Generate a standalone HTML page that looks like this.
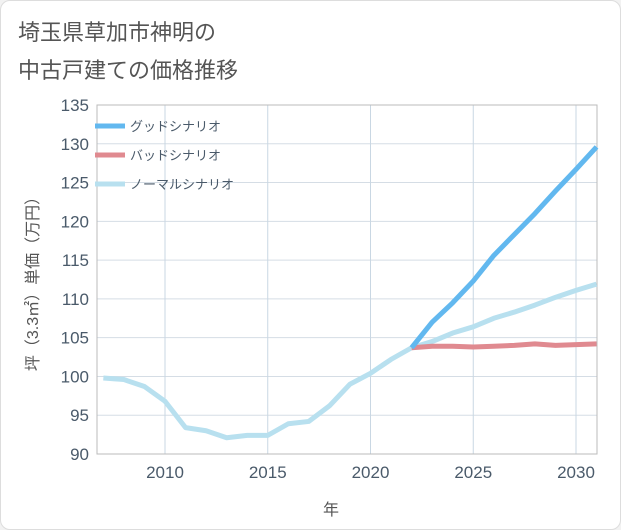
<!DOCTYPE html>
<html><head><meta charset="utf-8"><style>
body{margin:0;background:#f2f2f2;font-family:"Liberation Sans","Noto Sans CJK JP",sans-serif;}
#card{position:absolute;left:0;top:0;width:619px;height:528px;background:#fff;border:1px solid #ddd;border-radius:10px;}
svg{position:absolute;left:0;top:0;}
text{font-family:"Liberation Sans","Noto Sans CJK JP",sans-serif;}
</style></head><body>
<div id="card"></div>
<svg id="chart" width="621" height="530">
<text x="18" y="40" font-size="22" fill="#555">埼玉県草加市神明の</text>
<text x="18" y="78" font-size="22" fill="#555">中古戸建ての価格推移</text>
<g id="grid"></g><g id="series"></g><g id="legend"></g>
<text x="331" y="515" font-size="16" fill="#555" text-anchor="middle">年</text>
<text transform="translate(38,280) rotate(-90)" font-size="16" fill="#555" text-anchor="middle">坪（3.3㎡）単価（万円）</text>
</svg>
<script>
const years=[2007,2008,2009,2010,2011,2012,2013,2014,2015,2016,2017,2018,2019,2020,2021,2022,2023,2024,2025,2026,2027,2028,2029,2030,2031];
const normal=[99.8,99.6,98.7,96.8,93.4,93.0,92.1,92.4,92.4,93.9,94.2,96.2,99.0,100.4,102.2,103.7,104.5,105.6,106.4,107.5,108.3,109.2,110.2,111.1,111.9];
const goodYears=[2022,2023,2024,2025,2026,2027,2028,2029,2030,2031];
const good=[103.7,107.0,109.5,112.3,115.6,118.3,121.0,123.9,126.7,129.6];
const bad=[103.7,103.9,103.9,103.8,103.9,104.0,104.2,104.0,104.1,104.2];
const yTicks=[90,95,100,105,110,115,120,125,130,135];
const xTicks=[2010,2015,2020,2025,2030];
const L=97,R=597,T=105,B=454;
const X=v=>165+(v-2010)*20.55;
const Y=v=>B-(v-90)*(B-T)/45;
const ns="http://www.w3.org/2000/svg";
function mk(p,tag,a){const e=document.createElementNS(ns,tag);for(const k in a)e.setAttribute(k,a[k]);p.appendChild(e);return e;}
const g=document.getElementById('grid');
yTicks.forEach(v=>{const l=mk(g,'line',{x1:L,x2:R,y1:Y(v),y2:Y(v),stroke:'#d5dde5','stroke-width':1});

const t=mk(g,'text',{x:L-8,y:Y(v)+6,'font-size':17,fill:'#4a5a6a','text-anchor':'end'});t.textContent=v;
});
xTicks.forEach(v=>{const l=mk(g,'line',{x1:X(v),x2:X(v),y1:T,y2:B,stroke:'#c9d7e3','stroke-width':1});

const t=mk(g,'text',{x:X(v),y:B+24,'font-size':17,fill:'#4a5a6a','text-anchor':'middle'});t.textContent=v;
});
const fr=mk(g,'rect',{x:L,y:T,width:R-L,height:B-T,fill:'none',stroke:'#bbb'});

const s=document.getElementById('series');
function line(xs,vs,c,name){const p=mk(s,'polyline',{points:xs.map((x,i)=>X(x)+','+Y(vs[i])).join(' '),fill:'none',stroke:c,'stroke-width':5,'stroke-linejoin':'round'});
}
line(years,normal,'#b8e0ef','normal-scenario-line');
line(goodYears,bad,'#e08a90','bad-scenario-line');
line(goodYears,good,'#62b8ef','good-scenario-line');
const lg=document.getElementById('legend');
[['グッドシナリオ','#62b8ef'],['バッドシナリオ','#e08a90'],['ノーマルシナリオ','#b8e0ef']].forEach((d,i)=>{
const y=126+i*29;
const l=mk(lg,'line',{x1:95,x2:125,y1:y,y2:y,stroke:d[1],'stroke-width':5});

const t=mk(lg,'text',{x:130,y:y+5,'font-size':13,fill:'#4a5a6a'});t.textContent=d[0];
});
</script>
</body></html>
